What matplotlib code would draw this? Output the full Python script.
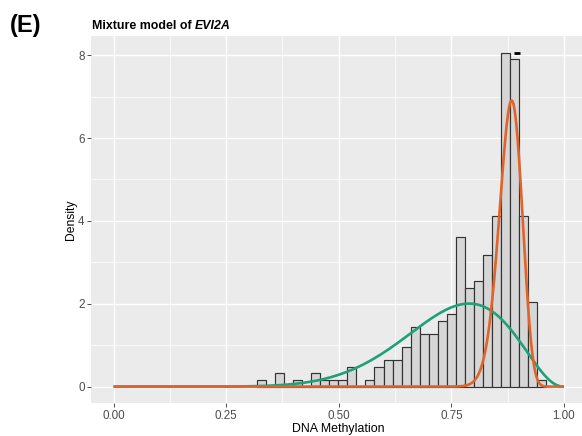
import math
import numpy as np
import matplotlib
matplotlib.use("Agg")
import matplotlib.pyplot as plt

plt.rcParams['font.family'] = ['Liberation Sans', 'DejaVu Sans']

# histogram of DNA methylation (density scale), bins of width ~0.02
bin_start = 0.318
bin_width = 0.0201
density = [0.16, 0, 0.32, 0, 0.16, 0, 0.32, 0.16, 0.16, 0.16, 0.48, 0,
           0.16, 0.48, 0.64, 0.64, 0.95, 1.43, 1.27, 1.27, 1.59, 1.75,
           3.62, 2.38, 2.54, 3.17, 4.13, 8.06, 7.90, 4.13, 2.05, 0.16]

# fitted beta mixture components (weight, alpha, beta)
comp_green = (0.59, 9.62, 3.30)
comp_orange = (0.44, 141.0, 19.4)

# little black mark above the peak
mark_x = [0.895]
mark_y = [8.06]

xticks = [0.00, 0.25, 0.50, 0.75, 1.00]
xlabels = ["0.00", "0.25", "0.50", "0.75", "1.00"]
yticks = [0, 2, 4, 6, 8]


def beta_curve(x, w, a, b):
    lnB = math.lgamma(a) + math.lgamma(b) - math.lgamma(a + b)
    y = np.zeros_like(x)
    inside = (x > 0) & (x < 1)
    xi = x[inside]
    y[inside] = w * np.exp((a - 1) * np.log(xi) + (b - 1) * np.log(1 - xi) - lnB)
    return y


W, H = 582, 436
fig = plt.figure(figsize=(W / 100, H / 100), dpi=100)
ax = fig.add_axes([91 / W, (H - 403.3) / H, 495.5 / W, (403.3 - 36) / H])
ax.set_facecolor('#EBEBEB')
for s in ax.spines.values():
    s.set_visible(False)

lefts = bin_start + bin_width * np.arange(len(density))
ax.bar(lefts, density, width=bin_width, align='edge', color='#D6D6D6',
       edgecolor='#333333', linewidth=0.85, zorder=3)

xs = np.linspace(0, 1, 1001)
ax.plot(xs, beta_curve(xs, *comp_green), color='#1FA079', lw=1.9, zorder=4,
        solid_capstyle='butt')
ax.plot(xs, beta_curve(xs, *comp_orange), color='#E0642A', lw=1.9, zorder=5,
        solid_capstyle='butt')
ax.plot(mark_x, mark_y, marker='_', color='black', ms=4, mew=2.0, ls='none', zorder=6)

ymax = max(density)
ax.set_xlim(-0.05, 1.05)
ax.set_ylim(-0.05 * ymax, 1.05 * ymax)

ax.set_xticks(xticks)
ax.set_xticklabels(xlabels)
ax.set_yticks(yticks)
ax.set_xticks([0.125, 0.375, 0.625, 0.875], minor=True)
ax.set_yticks([1, 3, 5, 7], minor=True)
ax.grid(which='major', color='white', lw=0.95, zorder=0)
ax.grid(which='minor', color='white', lw=0.5, zorder=0)
ax.set_axisbelow(True)
ax.tick_params(which='major', length=2.7, width=0.6, color='#333333',
               labelcolor='#4D4D4D', labelsize=8.4, pad=1.8)
ax.tick_params(which='minor', length=0)

fig.text(338.75 / W, (H - 431.7) / H, "DNA Methylation", ha='center',
         va='baseline', fontsize=8.9, color='black')
fig.text(71 / W, (H - 219.7) / H, "Density", ha='center', va='center',
         rotation=90, fontsize=8.7, color='black')

fig.text(10 / W, (H - 31.7) / H, "(E)", fontsize=17, fontweight='bold',
         va='baseline', ha='left')
t1 = fig.text(91.7 / W, (H - 29.3) / H, "Mixture model of ", fontsize=8.9,
              fontweight='bold', va='baseline', ha='left')
fig.canvas.draw()
bb = t1.get_window_extent()
fig.text(bb.x1 / W, (H - 29.3) / H, "EVI2A", fontsize=8.9, fontweight='bold',
         fontstyle='italic', va='baseline', ha='left')

fig.savefig('out.png', dpi=100)
